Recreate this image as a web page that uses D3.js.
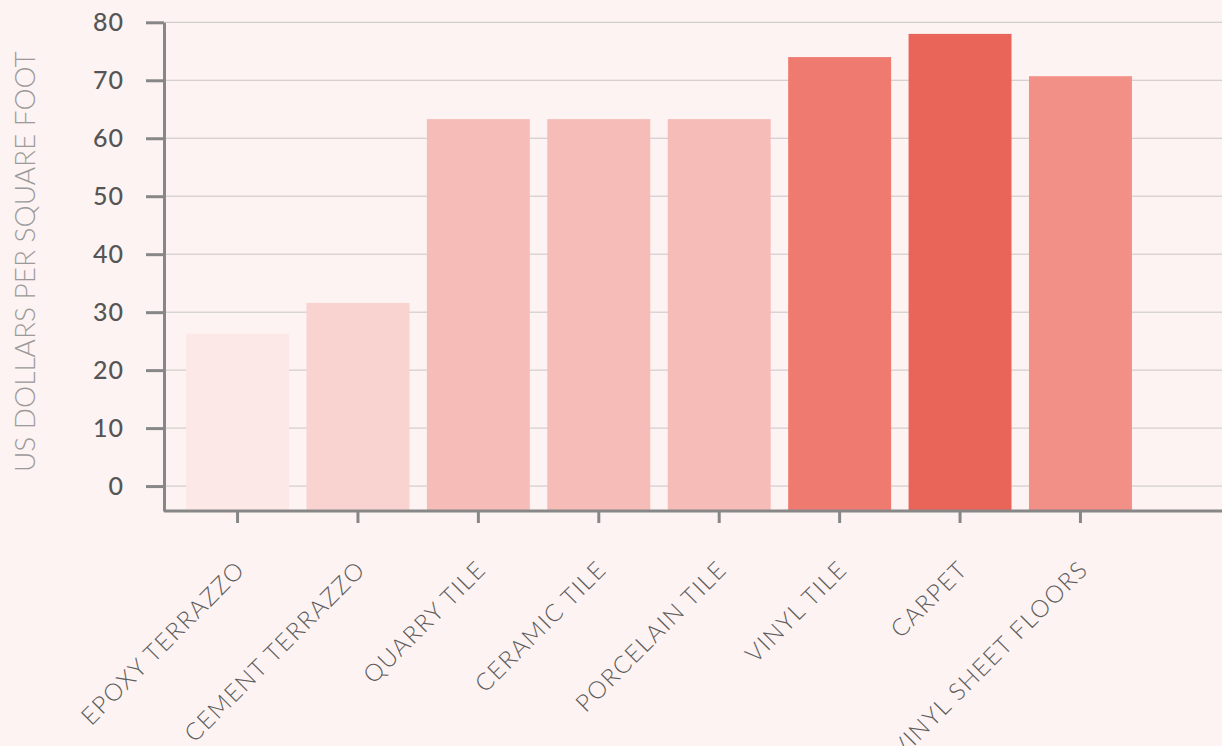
<!DOCTYPE html>
<html>
<head>
<meta charset="utf-8">
<script src="https://cdn.jsdelivr.net/npm/d3@7"></script>
<style>
	html, body { margin: 0; padding: 0; background: #fdf3f2; }
	svg { display: block; }
</style>
</head>
<body>
<div id="chart"></div>
<script>
// données
let categories = ["EPOXY TERRAZZO", "CEMENT TERRAZZO", "QUARRY TILE", "CERAMIC TILE", "PORCELAIN TILE", "VINYL TILE", "CARPET", "VINYL SHEET FLOORS"];
let values = [26.3, 31.6, 63.3, 63.3, 63.3, 74.0, 78.0, 70.7];
let yTicks = [0, 10, 20, 30, 40, 50, 60, 70, 80];
let yLabel = "US DOLLARS PER SQUARE FOOT";

let palette = ["#fce8e6", "#f9d3d0", "#f6bcb8", "#f6bcb8", "#f6bcb8", "#ef7b70", "#ea6559", "#f28f87"];

let width = 1222, height = 746;
let svg = d3.select("#chart").append("svg")
	.attr("width", width)
	.attr("height", height)
	.style("background", "#fdf3f2");

let x = d3.scaleBand(categories, [168, 1150])
	.paddingInner(0.145)
	.paddingOuter(0.15);
let y = d3.scaleLinear([-4.3, 80], [511, 22.3]);
let color = d3.scaleOrdinal(categories, palette);

// grille
svg.append("g")
	.selectAll("line")
	.data(yTicks)
	.join("line")
	.attr("x1", 164)
	.attr("x2", width)
	.attr("y1", d => y(d))
	.attr("y2", d => y(d))
	.attr("stroke", "#c9c6c5")
	.attr("stroke-width", 1);

// barres
svg.append("g")
	.selectAll("rect")
	.data(categories)
	.join("rect")
	.attr("x", d => x(d))
	.attr("width", x.bandwidth())
	.attr("y", (d, i) => y(values[i]))
	.attr("height", (d, i) => y(-4.3) - y(values[i]))
	.attr("fill", d => color(d));

// axe y
svg.append("g")
	.attr("transform", "translate(164,0)")
	.call(d3.axisLeft(y).tickValues(yTicks).tickSize(18).tickPadding(22).tickSizeOuter(0))
	.call(g => g.select(".domain").attr("stroke", "#878787").attr("stroke-width", 3))
	.call(g => g.selectAll(".tick line").attr("stroke", "#878787").attr("stroke-width", 3))
	.call(g => g.selectAll("text")
		.attr("fill", "#555")
		.attr("font-family", "Lato, 'Noto Sans', sans-serif")
		.attr("font-size", 25)
		.attr("letter-spacing", 1)
		.attr("font-weight", 500));

// axe x
svg.append("g")
	.attr("transform", "translate(0,511)")
	.call(d3.axisBottom(x).tickSize(12).tickSizeOuter(0))
	.call(g => g.select(".domain").attr("d", `M164,0H${width}`).attr("stroke", "#878787").attr("stroke-width", 3))
	.call(g => g.selectAll(".tick line").attr("stroke", "#878787").attr("stroke-width", 3))
	.call(g => g.selectAll("text")
		.attr("fill", "#5c5c5c")
		.attr("font-family", "Lato, 'Noto Sans', sans-serif")
		.attr("font-size", 24)
		.attr("letter-spacing", 1.4)
		.attr("font-weight", 300)
		.attr("text-anchor", "end")
		.attr("dy", null)
		.attr("y", 0)
		.attr("transform", "translate(9,60) rotate(-45)"));

// titre axe y
svg.append("text")
	.attr("transform", `translate(35,${(y(80) + y(-4.3)) / 2 - 5}) rotate(-90)`)
	.attr("text-anchor", "middle")
	.attr("fill", "#9a9a9a")
	.attr("font-family", "Lato, 'Noto Sans', sans-serif")
	.attr("font-size", 28)
	.attr("font-weight", 300)
	.text(yLabel);
</script>
</body>
</html>
